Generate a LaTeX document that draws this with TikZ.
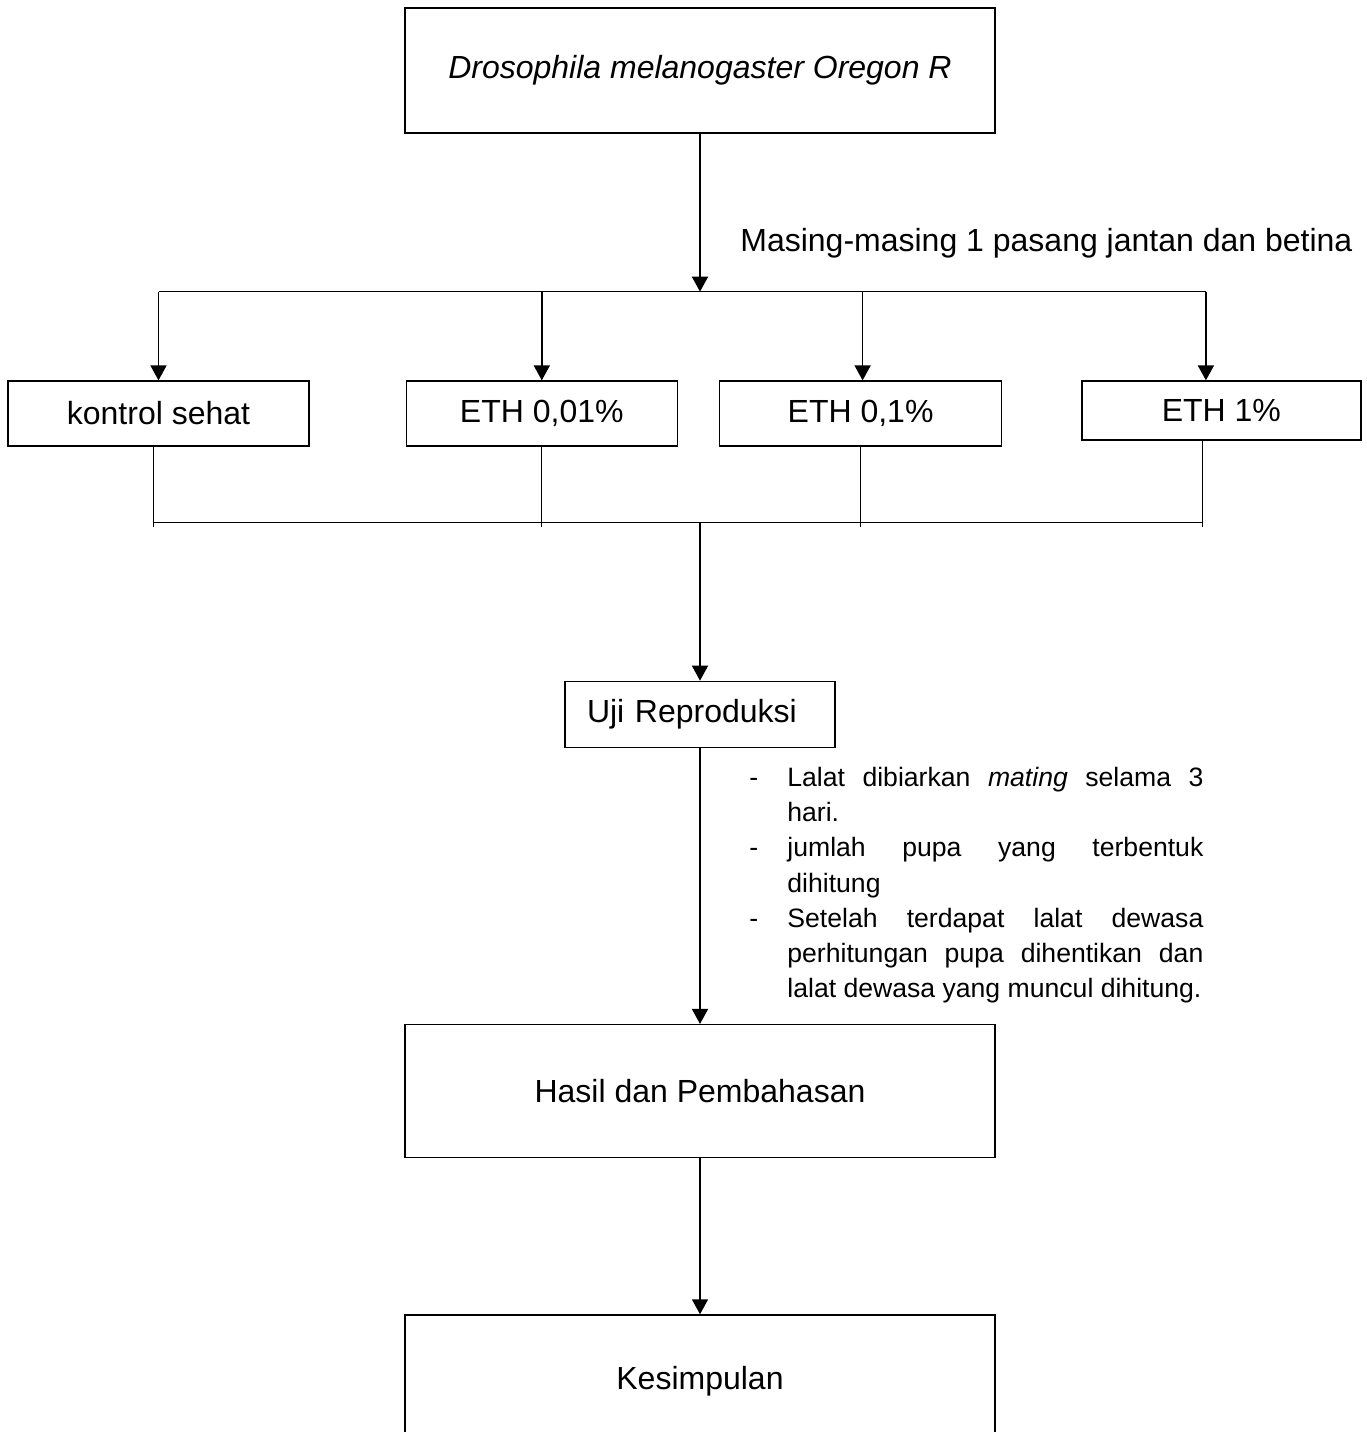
\documentclass[tikz,border=0pt]{standalone}
\usepackage{fontspec}
\setmainfont{Liberation Sans}
\usetikzlibrary{positioning,arrows.meta}

\newenvironment{steplist}{\begin{list}{-}{\setlength\leftmargin{19pt}\setlength\labelwidth{19pt}\setlength\labelsep{0pt}\setlength\itemsep{0pt}\setlength\parsep{0pt}\setlength\topsep{0pt}\setlength\partopsep{0pt}\renewcommand\makelabel[1]{##1\hfil}}}{\end{list}}

\begin{document}
\begin{tikzpicture}[
        box/.style = {draw, line width=0.65pt, inner sep=0pt, align=center, font=\fontsize{16pt}{19pt}\selectfont},
        flow/.style = {line width=0.85pt, -{Triangle[width=8pt,length=7.5pt]}},
        split/.style = {line width=0.5pt},
        merge/.style = {line width=0.4pt}
    ]
        \useasboundingbox (0,0) rectangle (683.5pt,-716pt);
        \clip (0,0) rectangle (683.5pt,-716pt);

        \node[box, minimum width=295pt, minimum height=62.5pt](droso) at (350pt,-35.25pt){\itshape Drosophila melanogaster Oregon R};
        \coordinate[below = 79pt of droso](split);
        \node[anchor=base west, inner sep=0pt, font=\fontsize{16pt}{19pt}\selectfont](pair) at (370pt,-125.5pt){Masing-masing 1 pasang jantan dan betina};

        \node[box, minimum width=150.5pt, minimum height=32.5pt](kontrol) at (79.25pt,-206.75pt){kontrol sehat};
        \node[box, minimum width=135.5pt, minimum height=32.5pt, right = 48pt of kontrol](eth1){ETH 0,01\%};
        \node[box, minimum width=141pt, minimum height=32.5pt, right = 20.5pt of eth1](eth2){ETH 0,1\%};
        \node[box, minimum width=139.5pt, minimum height=29.5pt, right = 39.5pt of eth2.north east, anchor=north west](eth3){ETH 1\%};

        \coordinate(s1) at (kontrol.north |- split);
        \coordinate(s2) at (eth1.north |- split);
        \coordinate(s3) at ([xshift=1pt]eth2.north |- split);
        \coordinate(s4) at ([xshift=-7.75pt]eth3.north |- split);

        \coordinate[below = 194.5pt of droso](merge);
        \coordinate(m1) at ([xshift=-2.75pt]kontrol.south);
        \coordinate(m2) at (eth1.south);
        \coordinate(m3) at (eth2.south);
        \coordinate(m4) at ([xshift=-9.75pt]eth3.south);

        \node[box, minimum height=33pt, text width=113pt, inner xsep=11pt, align=left, below = 79pt of merge](uji){Uji Reproduksi};
        \node[below right = 1.5pt and 24.5pt of uji.south, inner sep=0pt, text width=227pt, align=justify, font=\fontsize{13.3pt}{17.6pt}\selectfont](steps){%
            \begin{steplist}
            \item Lalat dibiarkan \textit{mating} selama 3\linebreak hari.
            \item jumlah pupa yang terbentuk\linebreak dihitung
            \item Setelah terdapat lalat dewasa\linebreak perhitungan pupa dihentikan dan\linebreak lalat dewasa yang muncul dihitung.
            \end{steplist}};
        \node[box, minimum width=295pt, minimum height=66.5pt, below = 138pt of uji](hasil){Hasil dan Pembahasan};
        \node[box, minimum width=295pt, minimum height=66.5pt, below = 78pt of hasil](simpul){Kesimpulan};

        \draw[flow](droso) -- (split);
        \draw[split](s1) -- (s4);
        \draw[flow](s1) -- (kontrol);
        \draw[flow](s2) -- (eth1);
        \draw[flow](s3) -- (s3 |- eth2.north);
        \draw[flow](s4) -- (s4 |- eth3.north);

        \draw[merge](m1) -- ([yshift=-2pt]m1 |- merge);
        \draw[merge](m2) -- ([yshift=-2pt]m2 |- merge);
        \draw[merge](m3) -- ([yshift=-2pt]m3 |- merge);
        \draw[merge](m4) -- ([yshift=-2pt]m4 |- merge);
        \draw[merge](m1 |- merge) -- (m4 |- merge);

        \draw[flow](merge) -- (uji.north -| merge);
        \draw[flow](uji.south -| merge) -- (hasil.north -| merge);
        \draw[flow](hasil) -- (simpul);
\end{tikzpicture}
\end{document}
